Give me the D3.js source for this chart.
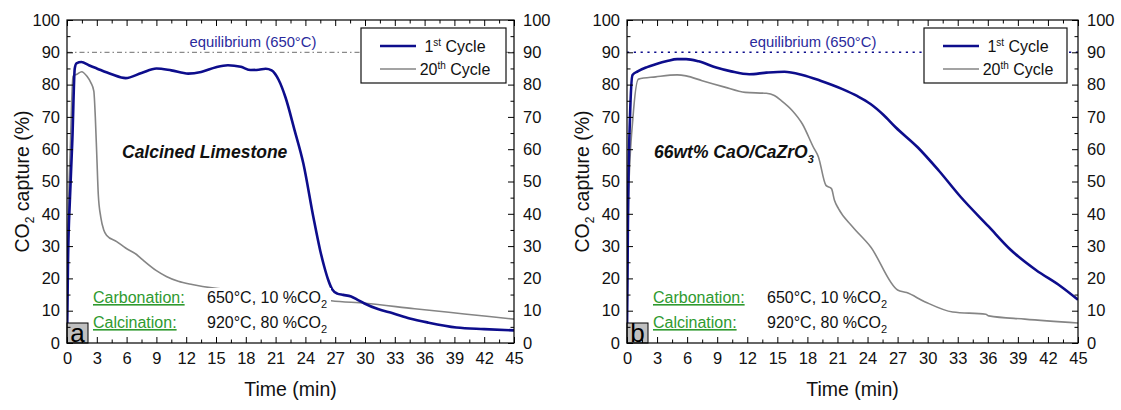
<!DOCTYPE html>
<html>
<head>
<meta charset="utf-8">
<script src="https://cdn.jsdelivr.net/npm/d3@7"></script>
<style>
  html, body { margin: 0; padding: 0; background: #ffffff; }
  svg { display: block; }
</style>
</head>
<body>
<svg id="chart" width="1121" height="410"></svg>
<script>
// ---------------- DATA ----------------
const xTickValues = [0, 3, 6, 9, 12, 15, 18, 21, 24, 27, 30, 33, 36, 39, 42, 45];
const xMinorTickValues = [1.5, 4.5, 7.5, 10.5, 13.5, 16.5, 19.5, 22.5, 25.5, 28.5, 31.5, 34.5, 37.5, 40.5, 43.5];
const yTickValues = [0, 10, 20, 30, 40, 50, 60, 70, 80, 90, 100];
const yMinorTickValues = [5, 15, 25, 35, 45, 55, 65, 75, 85, 95];
const equilibriumValue = 90;

// Panel a: Calcined Limestone  [time (min), CO2 capture (%)]
const limestoneCycle1 = [
  [0, 0], [0.1, 25], [0.3, 45], [0.54, 63], [0.78, 85], [0.95, 86.6], [1.45, 87.0],
  [2.2, 86.0], [3, 85], [4.5, 83.2], [5.9, 82.0], [7.5, 83.6], [9, 85.0], [10.5, 84.4],
  [12.2, 83.4], [13.5, 83.9], [15, 85.4], [16.2, 86.0], [17.5, 85.5], [18.5, 84.5],
  [19.3, 84.6], [20, 84.9], [20.6, 84.4], [21.3, 81.5], [22, 76], [22.9, 66],
  [23.8, 55.5], [24.8, 39], [25.5, 28.5], [25.9, 23.6], [26.3, 19.5], [26.7, 16.6],
  [27.2, 15.3], [27.8, 14.9], [28.6, 14.4], [29.3, 13.3], [29.9, 12.3], [31.3, 10.5],
  [32.8, 9.2], [34.5, 7.6], [36.4, 6.3], [39.2, 4.8], [42, 4.3], [45, 3.9]
];
const limestoneCycle20 = [
  [0, 0], [0.15, 40], [0.35, 62], [0.6, 82.6], [1.0, 83.2], [1.48, 84.0], [2.0, 82.6],
  [2.4, 80.6], [2.7, 78.0], [2.85, 70], [3.0, 58], [3.15, 46], [3.4, 39], [3.7, 35],
  [4.0, 33.3], [5, 31.4], [5.9, 29.4], [7, 27.4], [7.6, 25.8], [9, 22.4], [10, 20.6],
  [11.2, 19.1], [12.6, 18.1], [14.8, 17.0], [16.9, 16.4], [18.5, 16.1], [20, 15.7],
  [22, 15.1], [24, 14.4], [26.6, 13.1], [30, 12.3], [35, 10.6], [40, 9.0], [45, 7.4]
];

// Panel b: 66wt% CaO/CaZrO3
const cazroCycle1 = [
  [0, 3], [0.1, 40], [0.3, 70], [0.55, 83.0], [1.07, 84.1], [2.0, 85.4], [2.86, 86.3],
  [4.0, 87.3], [5.0, 87.9], [5.9, 87.9], [7.15, 87.2], [8.9, 85.3], [10.4, 84.1],
  [12.2, 83.2], [13.9, 83.7], [15.7, 84.0], [17.5, 83.0], [19.3, 81.2], [21.5, 78.6],
  [23.0, 76.4], [24.3, 74.0], [25.6, 70.6], [26.8, 66.8], [29.0, 60.6], [31.1, 53.4],
  [33.3, 45.2], [36.1, 36.0], [38.3, 28.8], [40.8, 22.6], [43.3, 17.5], [45, 13.4]
];
const cazroCycle20 = [
  [0, 5], [0.15, 45], [0.6, 70], [1.14, 81.7], [2.86, 82.4], [5.0, 83.0], [5.9, 82.7],
  [7.5, 81.2], [9.66, 79.3], [11.8, 77.6], [13.9, 77.3], [14.7, 76.6], [15.4, 75.0],
  [16.5, 71.9], [17.5, 67.8], [18.6, 60.6], [19.1, 57.6], [19.85, 48.8], [20.4, 47.8],
  [20.7, 44.2], [21.1, 41.6], [22.5, 36.0], [24.3, 29.8], [27.0, 16.4], [27.9, 15.6],
  [29.7, 12.8], [32.5, 9.6], [35.8, 8.9], [36.1, 8.4], [39.7, 7.4], [45, 6.2]
];

// ---------------- DRAWING ----------------
const FONT = "'Liberation Sans', Arial, Helvetica, sans-serif";
const NAVY = "#0d0d8c";
const GREY = "#858585";
const GREEN = "#2f9a2f";
const EQBLUE = "#2a2a9c";

const svg = d3.select("#chart").style("font-family", FONT);

const panels = [
  {
    id: "a", left: 67, right: 514, top: 20, bottom: 343,
    c1: limestoneCycle1, c20: limestoneCycle20,
    eqStyle: { stroke: "#8a8a8a", dash: "5,3,1.5,3", width: 1.3 },
    legendX: 361, legendW: 145,
    titleX: 122, titleMain: "Calcined Limestone", titleSub: null,
    whiteBox: true
  },
  {
    id: "b", left: 627, right: 1078, top: 20, bottom: 343,
    c1: cazroCycle1, c20: cazroCycle20,
    eqStyle: { stroke: NAVY, dash: "2.2,4.6", width: 1.6 },
    legendX: 924, legendW: 143,
    titleX: 654, titleMain: "66wt% CaO/CaZrO", titleSub: "3",
    whiteBox: true
  }
];

panels.forEach(p => {
  const g = svg.append("g");
  const x = d3.scaleLinear().domain([0, 45]).range([p.left, p.right]);
  const y = d3.scaleLinear().domain([0, 100]).range([p.bottom, p.top]);
  const clipId = "clip-" + p.id;
  svg.append("clipPath").attr("id", clipId).append("rect")
    .attr("x", p.left).attr("y", p.top)
    .attr("width", p.right - p.left).attr("height", p.bottom - p.top);

  // equilibrium line
  g.append("line")
    .attr("x1", x(0)).attr("x2", x(45))
    .attr("y1", y(equilibriumValue)).attr("y2", y(equilibriumValue))
    .attr("stroke", p.eqStyle.stroke).attr("stroke-width", p.eqStyle.width)
    .attr("stroke-dasharray", p.eqStyle.dash);

  g.append("text")
    .attr("x", p.left + 186).attr("y", 47)
    .attr("text-anchor", "middle")
    .attr("font-size", 14.8).attr("fill", EQBLUE)
    .text("equilibrium (650°C)");

  // series lines
  const line = d3.line().x(d => x(d[0])).y(d => y(d[1])).curve(d3.curveMonotoneX);
  const lines = g.append("g").attr("clip-path", `url(#${clipId})`);
  lines.append("path").datum(p.c20)
    .attr("d", line).attr("fill", "none")
    .attr("stroke", GREY).attr("stroke-width", 1.6);
  lines.append("path").datum(p.c1)
    .attr("d", line).attr("fill", "none")
    .attr("stroke", NAVY).attr("stroke-width", 2.6);

  // annotation (with white background like the original)
  const ann = g.append("g");
  if (p.whiteBox) {
    ann.append("rect")
      .attr("x", p.left + 135).attr("y", 288)
      .attr("width", 129).attr("height", 48)
      .attr("fill", "#ffffff");
  }
  const rows = [
    { label: "Carbonation:", value: "650°C, 10 %CO", sub: "2", y: 303 },
    { label: "Calcination:", value: "920°C, 80 %CO", sub: "2", y: 328 }
  ];
  rows.forEach(r => {
    ann.append("text")
      .attr("x", p.left + 26).attr("y", r.y)
      .attr("font-size", 16).attr("fill", GREEN)
      .attr("text-decoration", "underline")
      .text(r.label);
    const t = ann.append("text")
      .attr("x", p.left + 140).attr("y", r.y)
      .attr("font-size", 16).attr("fill", "#111");
    t.append("tspan").text(r.value);
    t.append("tspan").attr("font-size", 11).attr("dy", 5).text(r.sub);
  });

  // panel title (bold italic)
  const tt = g.append("text")
    .attr("x", p.titleX).attr("y", 158)
    .attr("font-size", 17.5).attr("font-weight", "bold").attr("font-style", "italic")
    .attr("fill", "#111");
  tt.append("tspan").text(p.titleMain);
  if (p.titleSub) tt.append("tspan").attr("font-size", 11).attr("dy", 5).text(p.titleSub);

  // panel letter box
  g.append("rect")
    .attr("x", p.left).attr("y", p.bottom - 20)
    .attr("width", 21).attr("height", 20)
    .attr("fill", "#c0c0c0").attr("stroke", "#000").attr("stroke-width", 1);
  g.append("text")
    .attr("x", p.left + 10.5).attr("y", p.bottom - 1.5)
    .attr("text-anchor", "middle")
    .attr("font-size", 26).attr("fill", "#000")
    .text(p.id);

  // axes
  const major = 6, minor = 3.5;
  const styleAxis = sel => {
    sel.select(".domain").remove();
    sel.selectAll("line").attr("stroke", "#000").attr("stroke-width", 1);
    sel.selectAll("text").attr("font-size", 16.5).attr("fill", "#111").attr("font-family", FONT);
  };
  g.append("g").attr("transform", `translate(0,${p.bottom})`)
    .call(d3.axisBottom(x).tickValues(xTickValues).tickFormat(d3.format("d")).tickSize(-major).tickPadding(9))
    .call(styleAxis);
  g.append("g").attr("transform", `translate(0,${p.bottom})`)
    .call(d3.axisBottom(x).tickValues(xMinorTickValues).tickFormat("").tickSize(-minor))
    .call(styleAxis);
  g.append("g").attr("transform", `translate(0,${p.top})`)
    .call(d3.axisTop(x).tickValues(xTickValues).tickFormat("").tickSize(-major))
    .call(styleAxis);
  g.append("g").attr("transform", `translate(0,${p.top})`)
    .call(d3.axisTop(x).tickValues(xMinorTickValues).tickFormat("").tickSize(-minor))
    .call(styleAxis);
  g.append("g").attr("transform", `translate(${p.left},0)`)
    .call(d3.axisLeft(y).tickValues(yTickValues).tickFormat(d3.format("d")).tickSize(-major).tickPadding(7))
    .call(styleAxis);
  g.append("g").attr("transform", `translate(${p.left},0)`)
    .call(d3.axisLeft(y).tickValues(yMinorTickValues).tickFormat("").tickSize(-minor))
    .call(styleAxis);
  g.append("g").attr("transform", `translate(${p.right},0)`)
    .call(d3.axisRight(y).tickValues(yTickValues).tickFormat(d3.format("d")).tickSize(-major).tickPadding(9))
    .call(styleAxis);
  g.append("g").attr("transform", `translate(${p.right},0)`)
    .call(d3.axisRight(y).tickValues(yMinorTickValues).tickFormat("").tickSize(-minor))
    .call(styleAxis);

  // frame
  g.append("rect")
    .attr("x", p.left).attr("y", p.top)
    .attr("width", p.right - p.left).attr("height", p.bottom - p.top)
    .attr("fill", "none").attr("stroke", "#000").attr("stroke-width", 1.2);

  // legend
  const lg = g.append("g");
  lg.append("rect")
    .attr("x", p.legendX).attr("y", 28)
    .attr("width", p.legendW).attr("height", 55)
    .attr("fill", "#fff").attr("stroke", "#111").attr("stroke-width", 1.2);
  const entries = [
    { num: "1", sup: "st", color: NAVY, w: 2.6, y: 46 },
    { num: "20", sup: "th", color: GREY, w: 1.6, y: 69 }
  ];
  entries.forEach(e => {
    lg.append("line")
      .attr("x1", p.legendX + 19).attr("x2", p.legendX + 55)
      .attr("y1", e.y).attr("y2", e.y)
      .attr("stroke", e.color).attr("stroke-width", e.w);
    const t = lg.append("text")
      .attr("x", p.legendX + 94).attr("y", e.y + 5.5)
      .attr("text-anchor", "middle")
      .attr("font-size", 16).attr("fill", "#111");
    t.append("tspan").text(e.num);
    t.append("tspan").attr("font-size", 10).attr("dy", -6).text(e.sup);
    t.append("tspan").attr("dy", 6).text(" Cycle");
  });

  // axis titles
  g.append("text")
    .attr("x", (p.left + p.right) / 2).attr("y", 396)
    .attr("text-anchor", "middle")
    .attr("font-size", 19.5).attr("fill", "#111")
    .text("Time (min)");
  const yt = g.append("text")
    .attr("transform", `translate(${p.left - 38},${(p.top + p.bottom) / 2}) rotate(-90)`)
    .attr("text-anchor", "middle")
    .attr("font-size", 19.5).attr("fill", "#111");
  yt.append("tspan").text("CO");
  yt.append("tspan").attr("font-size", 12).attr("dy", 5).text("2");
  yt.append("tspan").attr("dy", -5).text(" capture (%)");
});
</script>
</body>
</html>
